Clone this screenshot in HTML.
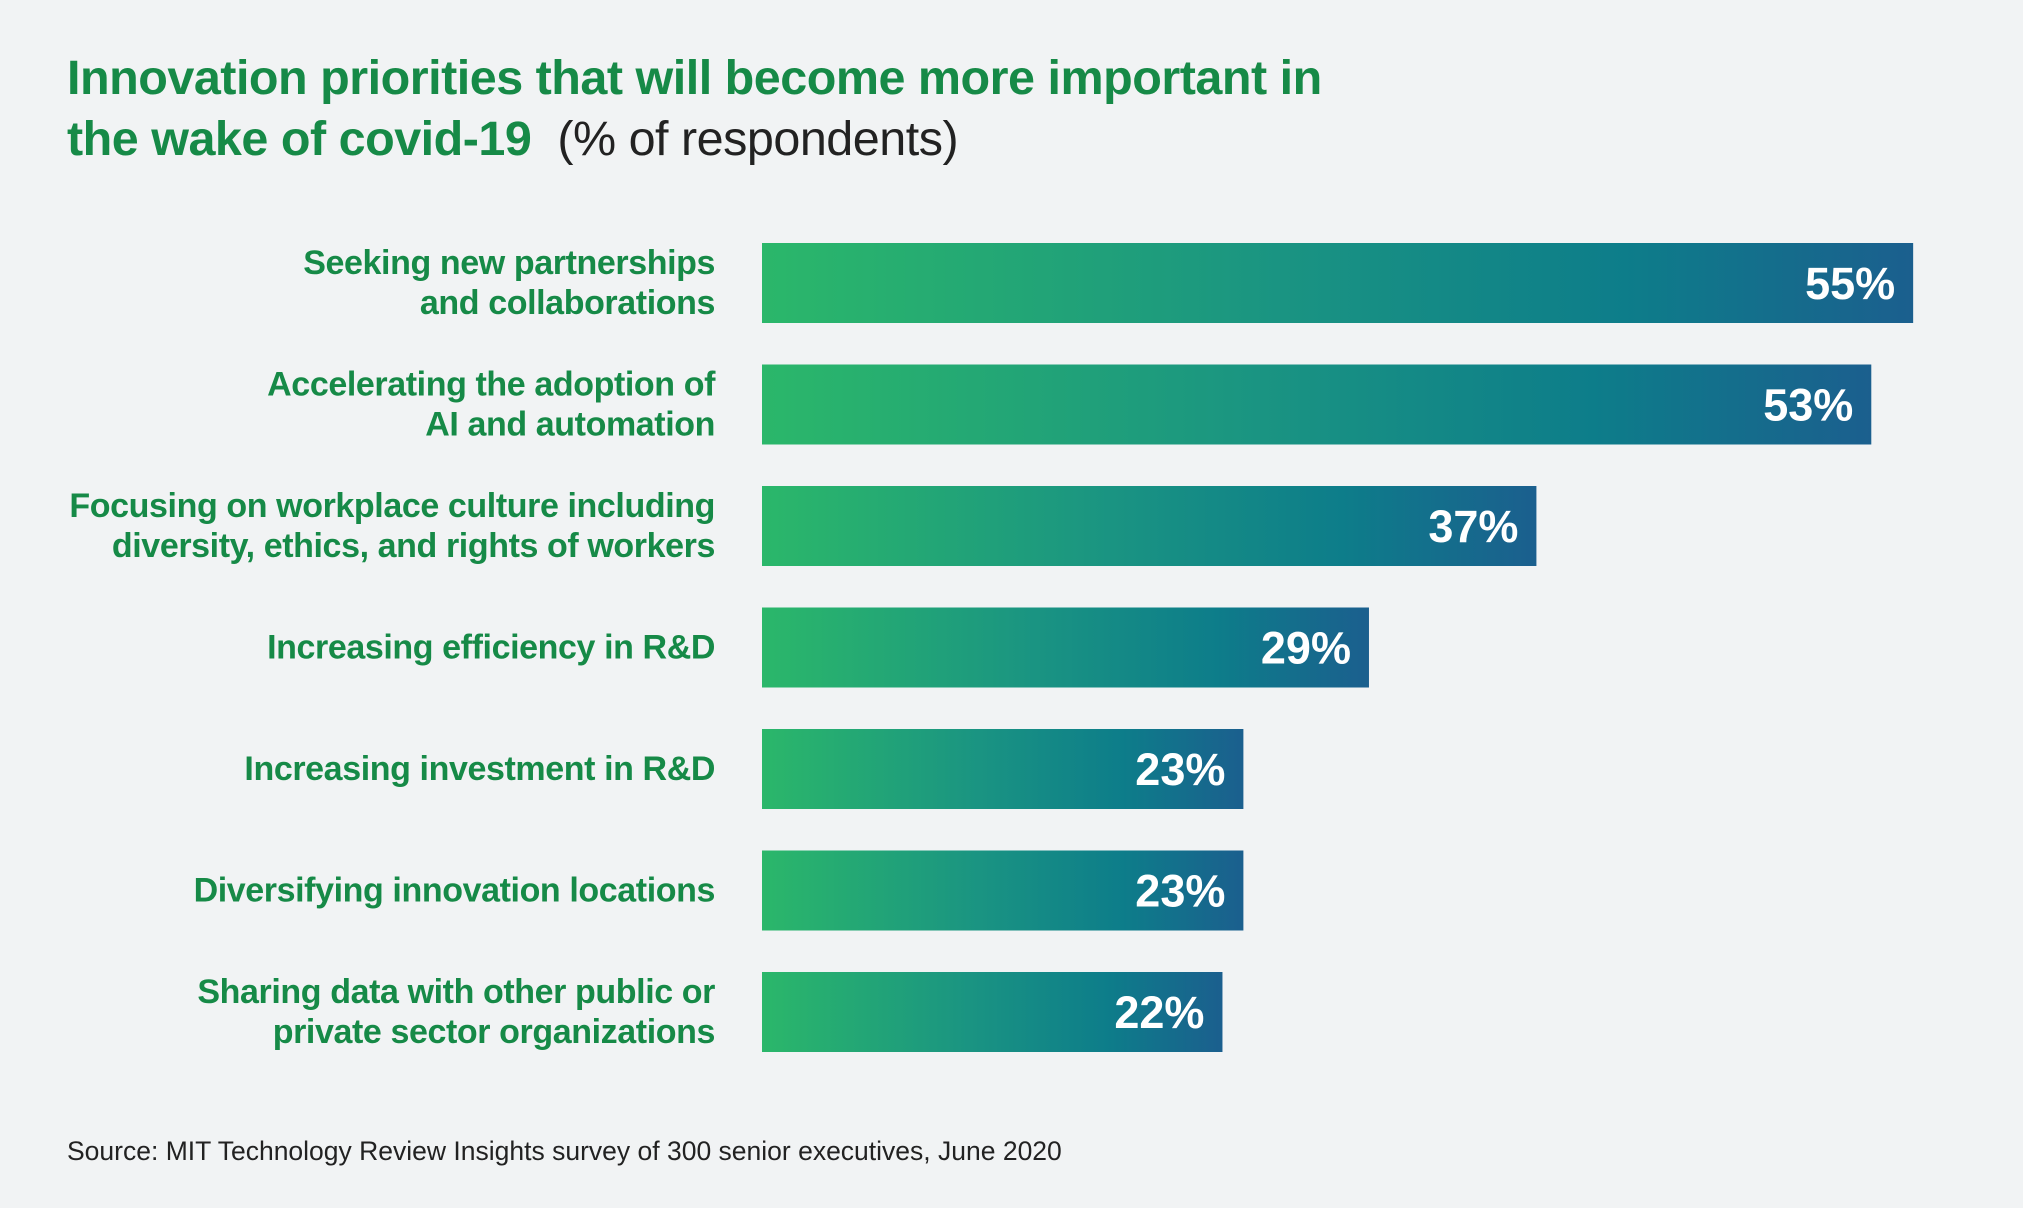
<!DOCTYPE html>
<html><head><meta charset="utf-8"><style>
body{margin:0;background:#f1f3f4;font-family:"Liberation Sans",sans-serif;}
#wrap{position:relative;width:2023px;height:1208px;overflow:hidden;background:#f1f3f4;}
.title{position:absolute;left:67px;top:48px;font-size:48.5px;line-height:61px;font-weight:bold;color:#168a47;letter-spacing:-0.5px}
.title span{font-weight:normal;color:#222}
.src{position:absolute;left:67px;top:1136px;font-size:26.5px;color:#222}
</style></head><body>
<div id="wrap">
<div class="title">Innovation priorities that will become more important in<br>the wake of covid-19 &nbsp;<span>(% of respondents)</span></div>
<svg id="svg" width="2023" height="1208" style="position:absolute;left:0;top:0">
<defs><linearGradient id="g" x1="0" x2="1" y1="0" y2="0">
<stop offset="0" stop-color="#2bb76a"/><stop offset="0.45" stop-color="#1a9482"/><stop offset="0.75" stop-color="#0d7d8a"/><stop offset="1" stop-color="#1b5f8e"/></linearGradient></defs>
</svg>
<div class="src">Source: MIT Technology Review Insights survey of 300 senior executives, June 2020</div>
</div>
<script>
const categories=[["Seeking new partnerships","and collaborations"],["Accelerating the adoption of","AI and automation"],["Focusing on workplace culture including","diversity, ethics, and rights of workers"],["Increasing efficiency in R&D"],["Increasing investment in R&D"],["Diversifying innovation locations"],["Sharing data with other public or","private sector organizations"]];
const values=[55,53,37,29,23,23,22];
const valueLabels=["55%","53%","37%","29%","23%","23%","22%"];
const svg=document.getElementById('svg');const NS="http://www.w3.org/2000/svg";
const x0=762,perUnit=20.93,top0=243,step=121.5,bh=80;
const xs=v=>x0+v*perUnit;const ys=i=>top0+i*step;
values.forEach((v,i)=>{
 const r=document.createElementNS(NS,'rect');
 r.setAttribute('x',x0);r.setAttribute('y',ys(i));r.setAttribute('width',xs(v)-x0);r.setAttribute('height',bh);r.setAttribute('fill','url(#g)');
 
 
 svg.appendChild(r);
 const t=document.createElementNS(NS,'text');
 t.setAttribute('x',xs(v)-18);t.setAttribute('y',ys(i)+bh/2+16);t.setAttribute('text-anchor','end');
 t.setAttribute('font-size','45');t.setAttribute('font-weight','bold');t.setAttribute('fill','#fff');t.setAttribute('font-family','Liberation Sans, sans-serif');
 t.textContent=valueLabels[i];
 
 
 svg.appendChild(t);
 const lines=categories[i];
 const l=document.createElementNS(NS,'text');
 l.setAttribute('text-anchor','end');l.setAttribute('font-size','34');l.setAttribute('font-weight','bold');l.setAttribute('fill','#168a47');l.setAttribute('font-family','Liberation Sans, sans-serif');l.setAttribute('letter-spacing','-0.4');
 
 
 const cy=ys(i)+bh/2;
 lines.forEach((s,k)=>{const sp=document.createElementNS(NS,'tspan');sp.setAttribute('x',715);
  sp.setAttribute('y',cy+11+(k-(lines.length-1)/2)*40);sp.textContent=s;l.appendChild(sp);});
 svg.appendChild(l);
});
</script>
</body></html>
